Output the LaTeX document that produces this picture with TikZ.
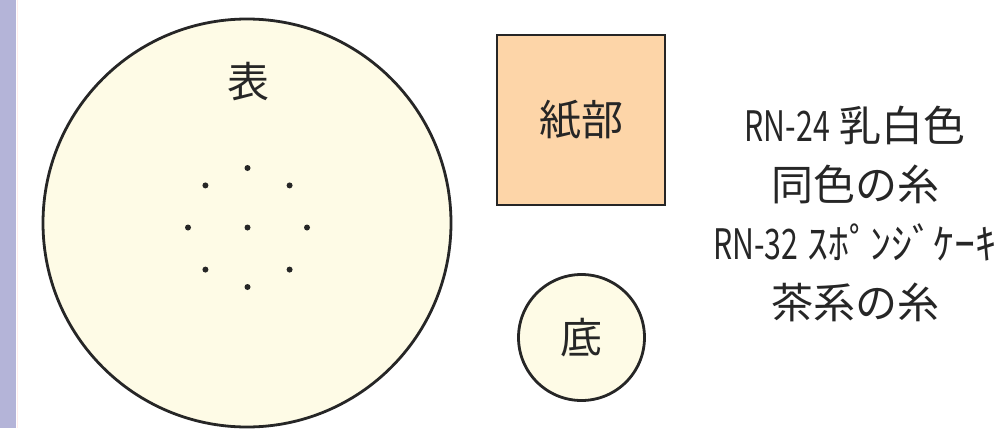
\documentclass[tikz,border=0pt]{standalone}
\usepackage{fontspec}
\newfontfamily\jpfont{Noto Sans CJK JP}
\usetikzlibrary{positioning}

\definecolor{barblue}{HTML}{B4B4D8}
\definecolor{cream}{HTML}{FEFBE6}
\definecolor{peach}{HTML}{FDD5A8}

\newcommand{\narrow}[1]{\scalebox{0.72}[1]{#1}}

\tikzset{
  part/.style={draw=black!85, line width=2.8pt, fill=cream, circle, inner sep=0pt},
  hole/.style={circle, fill=black!85, inner sep=0pt, minimum size=6pt},
  jp/.style={font=\jpfont\fontsize{42}{59}\selectfont, text=black!85}
}

\begin{document}
\begin{tikzpicture}[x=1pt, y=-1pt]
  \useasboundingbox (0,0) rectangle (1008,428);
  \fill[barblue] (0,0) rectangle (16,428);
  \draw[red!8, line width=1pt] (17.5,0) -- (17.5,428);

  % top piece with holes
  \node[part, minimum size=408pt] (omote) at (247,223) {};
  \node[jp] (omotelabel) at (248,82) {表};
  \node[hole] (c) at (247.5,227.5) {};
  \foreach \a [count=\i] in {0,45,...,315}
    \node[hole] (h\i) at ([shift={(\a:59.5)}]c) {};

  % paper part
  \node[draw=black!85, line width=2.8pt, fill=peach, minimum width=168pt,
        minimum height=170pt, inner sep=0pt, jp] (kami) at (581,120) {紙部};

  % bottom piece
  \node[part, minimum size=126pt, jp] (soko) at (581.5,337.5) {底};

  % thread note
  \node[jp, align=center] (note) at (855,214)
    {\narrow{RN-24} 乳白色\\同色の糸\\\narrow{RN-32} ｽﾎﾟﾝｼﾞｹｰｷ\\茶系の糸};
\end{tikzpicture}
\end{document}
